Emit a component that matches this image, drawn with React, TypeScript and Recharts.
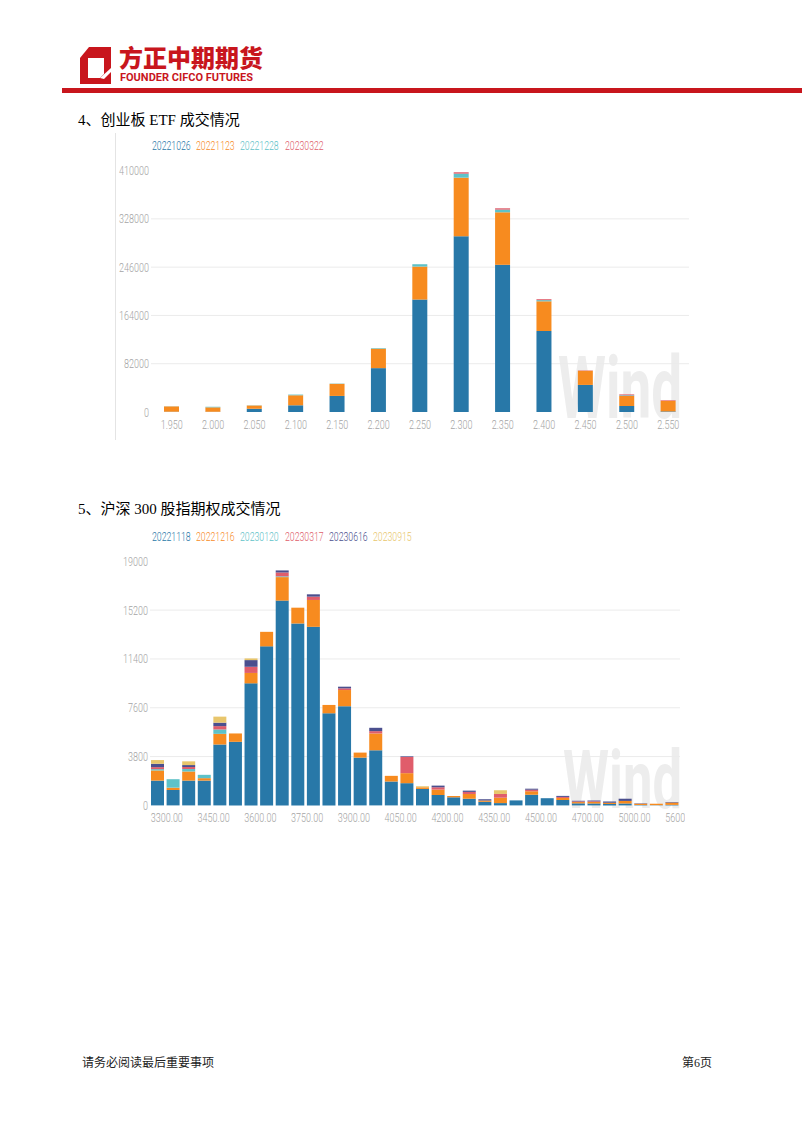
import React from 'react';
import { BarChart, Bar, XAxis, YAxis, CartesianGrid } from 'recharts';

// 创业板ETF 成交 (by strike)
const etfStrikes = ['1.950', '2.000', '2.050', '2.100', '2.150', '2.200', '2.250', '2.300', '2.350', '2.400', '2.450', '2.500', '2.550'];
const etf20221026 = [500, 400, 5500, 11400, 27300, 74500, 191000, 298500, 250000, 137600, 46000, 10200, 1000];
const etf20221123 = [9000, 7500, 5500, 17000, 20500, 33000, 56000, 99500, 89200, 50400, 24000, 17000, 18000];
const etf20221228 = [200, 1000, 300, 1200, 500, 1000, 4000, 6800, 4500, 2000, 0, 1200, 0];
const etf20230322 = [0, 0, 0, 0, 0, 0, 0, 2400, 2300, 1600, 600, 1500, 1000];
const etfTicks = [0, 82000, 164000, 246000, 328000, 410000];

// 沪深300 股指期权 成交 (by strike)
const ioStrikes = ['3300.00', '3350.00', '3400.00', '3450.00', '3500.00', '3550.00', '3600.00', '3650.00', '3700.00', '3750.00', '3800.00', '3850.00', '3900.00', '3950.00', '4000.00', '4050.00', '4100.00', '4150.00', '4200.00', '4250.00', '4300.00', '4350.00', '4400.00', '4450.00', '4500.00', '4550.00', '4600.00', '4700.00', '4800.00', '4900.00', '5000.00', '5200.00', '5400.00', '5600.00'];
const io20221118 = [1930, 1200, 1930, 1930, 4740, 4950, 9500, 12380, 15940, 14160, 13900, 7170, 7720, 3720, 4290, 1860, 1730, 1280, 810, 630, 520, 280, 180, 390, 830, 560, 420, 160, 150, 100, 150, 30, 20, 40];
const io20221216 = [790, 180, 710, 190, 830, 650, 810, 1130, 1830, 1230, 2090, 650, 1260, 390, 1310, 440, 780, 130, 420, 100, 370, 100, 420, 0, 270, 0, 160, 100, 120, 110, 200, 100, 110, 180];
const io20230120 = [100, 660, 190, 260, 340, 0, 0, 0, 60, 0, 0, 0, 0, 0, 0, 0, 0, 0, 0, 0, 0, 0, 0, 0, 0, 0, 0, 0, 0, 0, 0, 0, 0, 0];
const io20230317 = [160, 0, 160, 0, 260, 0, 480, 0, 300, 0, 260, 0, 130, 0, 180, 0, 1260, 0, 180, 0, 160, 0, 290, 0, 120, 0, 80, 50, 50, 0, 0, 0, 0, 0];
const io20230616 = [260, 0, 150, 0, 270, 0, 520, 0, 160, 0, 180, 0, 130, 0, 260, 0, 50, 0, 130, 0, 100, 100, 0, 0, 80, 0, 80, 50, 60, 100, 170, 30, 0, 40];
const io20230915 = [290, 0, 290, 0, 470, 0, 130, 0, 0, 0, 0, 0, 0, 0, 0, 0, 0, 80, 0, 0, 0, 0, 290, 0, 0, 0, 0, 0, 0, 0, 0, 0, 0, 0];
const ioTicks = [0, 3800, 7600, 11400, 15200, 19000];

const BLUE = '#2878a8';
const ORANGE = '#f78b1f';
const TEAL = '#5ec2c8';
const RED = '#e05d6b';
const NAVY = '#4b4f8e';
const YELLOW = '#e8c66c';

const etfData = etfStrikes.map((strike, i) => ({
  strike,
  a: etf20221026[i],
  b: etf20221123[i],
  c: etf20221228[i],
  d: etf20230322[i],
}));

const ioData = ioStrikes.map((strike, i) => ({
  strike,
  a: io20221118[i],
  b: io20221216[i],
  c: io20230120[i],
  d: io20230317[i],
  e: io20230616[i],
  f: io20230915[i],
}));

const etfLegend = [
  { name: '20221026', color: BLUE },
  { name: '20221123', color: ORANGE },
  { name: '20221228', color: TEAL },
  { name: '20230322', color: RED },
];
const ioLegend = [
  { name: '20221118', color: BLUE },
  { name: '20221216', color: ORANGE },
  { name: '20230120', color: TEAL },
  { name: '20230317', color: RED },
  { name: '20230616', color: NAVY },
  { name: '20230915', color: YELLOW },
];

const TICK_FONT = 'Roboto, "DejaVu Sans", sans-serif';
const TICK_COLOR = '#a4a4a4';

function YTick({ x, y, payload }: any) {
  return (
    <text
      transform={`translate(${x},${y}) scale(0.72,1)`}
      textAnchor="end"
      dy="0.36em"
      fill={TICK_COLOR}
      fontSize={12.5}
      fontFamily={TICK_FONT}
      fontWeight={300}
    >
      {payload.value}
    </text>
  );
}

function XTickCenter({ x, y, payload }: any) {
  return (
    <text
      transform={`translate(${x},${y}) scale(0.72,1)`}
      textAnchor="middle"
      dy="0.71em"
      fill={TICK_COLOR}
      fontSize={12.5}
      fontFamily={TICK_FONT}
      fontWeight={300}
    >
      {payload.value}
    </text>
  );
}

function XTickStart({ x, y, payload }: any) {
  return (
    <text
      transform={`translate(${x - 7},${y}) scale(0.72,1)`}
      textAnchor="start"
      dy="0.71em"
      fill={TICK_COLOR}
      fontSize={12.5}
      fontFamily={TICK_FONT}
      fontWeight={300}
    >
      {payload.value}
    </text>
  );
}

function LegendRow({ items, left, top }: { items: { name: string; color: string }[]; left: number; top: number }) {
  return (
    <>
      {items.map((it, i) => (
        <span
          key={it.name}
          style={{
            position: 'absolute',
            left: left + i * 44.2,
            top,
            fontFamily: TICK_FONT,
            fontWeight: 300,
            fontSize: 13,
            lineHeight: '14px',
            color: it.color,
            transform: 'scaleX(0.67)',
            transformOrigin: 'left center',
            whiteSpace: 'nowrap',
          }}
        >
          {it.name}
        </span>
      ))}
    </>
  );
}

function Watermark({ left, baseline, width, size }: { left: number; baseline: number; width: number; size: number }) {
  return (
    <svg style={{ position: 'absolute', left: 0, top: 0 }} width={802} height={1133}>
      <text
        x={left}
        y={baseline}
        fontSize={size}
        fontFamily={TICK_FONT}
        fontWeight={700}
        fill="#ededed"
        textLength={width}
        lengthAdjust="spacingAndGlyphs"
      >
        Wind
      </text>
    </svg>
  );
}

const titleStyle: React.CSSProperties = {
  position: 'absolute',
  left: 78,
  fontFamily: '"Liberation Serif", "Noto Sans CJK SC", serif',
  fontSize: 15,
  color: '#000',
  whiteSpace: 'nowrap',
};

export default function App() {
  return (
    <div style={{ position: 'relative', width: 802, height: 1133, background: '#fff', overflow: 'hidden' }}>
      <style>{'body{margin:0}'}</style>

      {/* header */}
      <svg style={{ position: 'absolute', left: 78, top: 46 }} width={36} height={40}>
        <path d="M11 1 L33 1 L33 38 L2 38 L2 12 Z" fill="#c8161d" />
        <path d="M10 12 L26 12 L26 28 L22 32 L10 32 Z" fill="#fff" />
        <path d="M22 32 L33 22 L33 26 L26 33 Z" fill="#fff" />
      </svg>
      <div
        style={{
          position: 'absolute',
          left: 119,
          top: 43,
          fontFamily: '"Noto Sans CJK SC", sans-serif',
          fontWeight: 900,
          fontSize: 24,
          lineHeight: '28px',
          color: '#c8161d',
          whiteSpace: 'nowrap',
        }}
      >
        方正中期期货
      </div>
      <div
        style={{
          position: 'absolute',
          left: 120,
          top: 72,
          fontFamily: 'Roboto, sans-serif',
          fontWeight: 700,
          fontSize: 11,
          lineHeight: '12px',
          color: '#c8161d',
          whiteSpace: 'nowrap',
        }}
      >
        FOUNDER CIFCO FUTURES
      </div>
      <div style={{ position: 'absolute', left: 62, top: 88, width: 740, height: 5, background: '#c8161d' }} />

      {/* chart 1 */}
      <div style={{ ...titleStyle, top: 108 }}>4、创业板 ETF 成交情况</div>
      <div style={{ position: 'absolute', left: 115, top: 133, width: 1, height: 307, background: '#e4e4e4' }} />
      <Watermark left={558} baseline={418} width={124} size={88} />
      <LegendRow items={etfLegend} left={152} top={139} />
      <div style={{ position: 'absolute', left: 100, top: 130 }}>
        <BarChart width={600} height={320} data={etfData} margin={{ top: 40.6, right: 11, bottom: 8, left: 0 }} barSize={15}>
          <CartesianGrid vertical={false} stroke="#ebebeb" horizontalValues={[82000, 164000, 246000, 328000]} />
          <XAxis dataKey="strike" axisLine={false} tickLine={false} tickSize={0} tickMargin={8} height={30} interval={0} tick={XTickCenter} />
          <YAxis domain={[0, 410000]} ticks={etfTicks} axisLine={false} tickLine={false} tickSize={0} tickMargin={2} width={51} tick={YTick} />
          <Bar dataKey="a" stackId="s" fill={BLUE} isAnimationActive={false} />
          <Bar dataKey="b" stackId="s" fill={ORANGE} isAnimationActive={false} />
          <Bar dataKey="c" stackId="s" fill={TEAL} isAnimationActive={false} />
          <Bar dataKey="d" stackId="s" fill={RED} isAnimationActive={false} />
        </BarChart>
      </div>

      {/* chart 2 */}
      <div style={{ ...titleStyle, top: 497 }}>5、沪深 300 股指期权成交情况</div>
      <Watermark left={563} baseline={808} width={119} size={82} />
      <LegendRow items={ioLegend} left={152} top={530} />
      <div style={{ position: 'absolute', left: 100, top: 520 }}>
        <BarChart width={585} height={310} data={ioData} margin={{ top: 41.3, right: 5, bottom: 4.6, left: 0 }} barSize={13}>
          <CartesianGrid vertical={false} stroke="#ebebeb" horizontalValues={[3800, 7600, 11400, 15200]} />
          <XAxis dataKey="strike" axisLine={false} tickLine={false} tickSize={0} tickMargin={8} height={20} interval={2} tick={XTickStart} />
          <YAxis domain={[0, 19000]} ticks={ioTicks} axisLine={false} tickLine={false} tickSize={0} tickMargin={2} width={50} tick={YTick} />
          <Bar dataKey="a" stackId="s" fill={BLUE} isAnimationActive={false} />
          <Bar dataKey="b" stackId="s" fill={ORANGE} isAnimationActive={false} />
          <Bar dataKey="c" stackId="s" fill={TEAL} isAnimationActive={false} />
          <Bar dataKey="d" stackId="s" fill={RED} isAnimationActive={false} />
          <Bar dataKey="e" stackId="s" fill={NAVY} isAnimationActive={false} />
          <Bar dataKey="f" stackId="s" fill={YELLOW} isAnimationActive={false} />
        </BarChart>
      </div>

      {/* footer */}
      <div
        style={{
          position: 'absolute',
          left: 82,
          top: 1053,
          fontFamily: '"Noto Sans CJK SC", serif',
          fontSize: 12,
          color: '#222',
          whiteSpace: 'nowrap',
        }}
      >
        请务必阅读最后重要事项
      </div>
      <div
        style={{
          position: 'absolute',
          left: 682,
          top: 1053,
          fontFamily: '"Liberation Serif", "Noto Sans CJK SC", serif',
          fontSize: 12,
          color: '#222',
          whiteSpace: 'nowrap',
        }}
      >
        第6页
      </div>
    </div>
  );
}
